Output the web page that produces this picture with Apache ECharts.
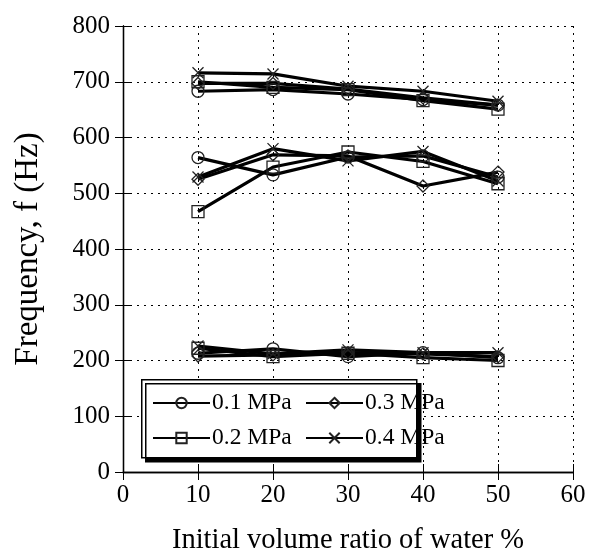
<!DOCTYPE html>
<html>
<head>
<meta charset="utf-8">
<script src="https://cdn.jsdelivr.net/npm/echarts@6/dist/echarts.min.js"></script>
<style>html,body{margin:0;padding:0;background:#fff}#c{width:598px;height:551px}</style>
</head>
<body>
<div id="c"></div>
<script>
// Data
var xValues = [10, 20, 30, 40, 50];
var seriesNames = ['0.1 MPa', '0.2 MPa', '0.3 MPa', '0.4 MPa'];
// three branches per pressure (high, middle, low)
var p01_high = [683, 686, 678, 668, 658];
var p01_mid  = [564, 533, 565, 567, 529];
var p01_low  = [213, 221, 207, 214, 205];
var p02_high = [700, 690, 686, 666, 651];
var p02_mid  = [467, 547, 574, 557, 517];
var p02_low  = [222, 207, 213, 205, 200];
var p03_high = [697, 697, 687, 671, 658];
var p03_mid  = [525, 569, 567, 513, 538];
var p03_low  = [208, 210, 214, 212, 207];
var p04_high = [716, 714, 692, 683, 665];
var p04_mid  = [529, 580, 558, 575, 522];
var p04_low  = [226, 212, 219, 214, 214];
var xTicks = [0, 10, 20, 30, 40, 50, 60];
var yTicks = [0, 100, 200, 300, 400, 500, 600, 700, 800];

var FONT = "'Liberation Serif','Times New Roman',serif";
var crossPath = 'path://M0,0L10,10M10,0L0,10';
var symbols = ['circle', 'rect', 'diamond', crossPath];
var groups = [
  [p01_high, p01_mid, p01_low],
  [p02_high, p02_mid, p02_low],
  [p03_high, p03_mid, p03_low],
  [p04_high, p04_mid, p04_low]
];

var series = [];
groups.forEach(function (g, i) {
  g.forEach(function (vals) {
    series.push({
      type: 'line',
      name: seriesNames[i],
      data: xValues.map(function (x, k) { return [x, vals[k]]; }),
      symbol: symbols[i],
      symbolSize: i === 3 ? 11 : 12,
      showSymbol: true,
      lineStyle: { color: '#000', width: 3.2 },
      itemStyle: { color: 'rgba(255,255,255,0)', borderColor: '#222', borderWidth: 1.3 },
      emphasis: { disabled: true },
      animation: false,
      z: 3
    });
  });
});

var legendPos = [[152, 391], [152, 426], [305, 391], [305, 426]];
var legends = seriesNames.map(function (n, i) {
  return {
    data: [n],
    left: legendPos[i][0], top: legendPos[i][1],
    itemWidth: 57, itemHeight: 13,
    itemGap: 0, padding: 0,
    selectedMode: false,
    textStyle: { fontFamily: FONT, fontSize: 23.5, color: '#000', padding: [2, 0, 0, -3] },
    z: 10
  };
});

var option = {
  animation: false,
  backgroundColor: '#fff',
  grid: { left: 123, right: 25, top: 26, bottom: 79, containLabel: false, outerBoundsMode: 'none' },
  xAxis: [{
    type: 'value', min: 0, max: 60, interval: 10,
    name: 'Initial volume ratio of water %', nameLocation: 'middle', nameGap: 54,
    nameTextStyle: { fontFamily: FONT, fontSize: 28.5, color: '#000' },
    axisLine: { show: true, lineStyle: { color: '#000', width: 1.3 } },
    axisTick: { show: true, inside: true, length: 8, lineStyle: { color: '#000' } },
    axisLabel: { fontFamily: FONT, fontSize: 25, color: '#000', margin: 11,
      formatter: function (v) { return xTicks.indexOf(v) >= 0 ? String(v) : ''; } },
    splitLine: { show: true, lineStyle: { color: '#000', type: [2, 5], width: 1 } }
  }, {
    type: 'value', position: 'top', min: 0, max: 60, interval: 10,
    axisLine: { show: true, lineStyle: { color: '#000', width: 1.3 } },
    axisTick: { show: true, inside: true, length: 8, lineStyle: { color: '#000' } },
    axisLabel: { show: false }, splitLine: { show: false }
  }],
  yAxis: [{
    type: 'value', min: 0, max: 800, interval: 100,
    name: 'Frequency, f (Hz)', nameLocation: 'middle', nameGap: 78, nameRotate: 90,
    nameTextStyle: { fontFamily: FONT, fontSize: 33, color: '#000' },
    axisLine: { show: true, lineStyle: { color: '#000', width: 1.3 } },
    axisTick: { show: true, inside: true, length: 8, lineStyle: { color: '#000' } },
    axisLabel: { fontFamily: FONT, fontSize: 25, color: '#000', margin: 13,
      formatter: function (v) { return yTicks.indexOf(v) >= 0 ? String(v) : ''; } },
    splitLine: { show: true, lineStyle: { color: '#000', type: [2, 5], width: 1 } }
  }, {
    type: 'value', position: 'right', min: 0, max: 800, interval: 100,
    axisLine: { show: true, lineStyle: { color: '#000', width: 1.3 } },
    axisTick: { show: true, inside: true, length: 8, lineStyle: { color: '#000' } },
    axisLabel: { show: false }, splitLine: { show: false }
  }],
  legend: legends,
  graphic: [{
    type: 'rect', left: 141, top: 379, z: 5, zlevel: 0,
    shape: { width: 275, height: 78 },
    style: { fill: '#fff', stroke: '#000', lineWidth: 1.5,
      shadowColor: '#000', shadowOffsetX: 4, shadowOffsetY: 4, shadowBlur: 0 }
  }],
  series: series
};

var chart = echarts.init(document.getElementById('c'), null, { renderer: 'canvas' });
chart.setOption(option);
</script>
</body>
</html>
